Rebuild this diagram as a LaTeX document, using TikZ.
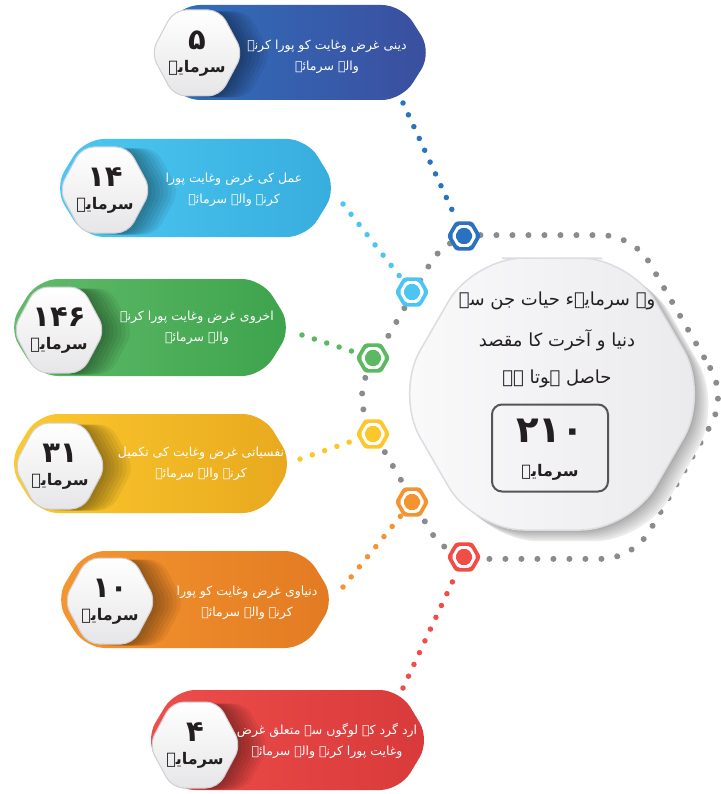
\documentclass[tikz,border=0pt]{standalone}
\usepackage{fontspec}
\usetikzlibrary{shapes.geometric,decorations.markings}
\TeXXeTstate=1
\newfontfamily\arabicfont[Script=Arabic]{DejaVu Sans}

\definecolor{cBlueA}{HTML}{2F72BE}\definecolor{cBlueB}{HTML}{3B4E9E}
\definecolor{cCyanA}{HTML}{4CC8F2}\definecolor{cCyanB}{HTML}{37ADDE}
\definecolor{cGreenA}{HTML}{62BC6B}\definecolor{cGreenB}{HTML}{3DA34C}
\definecolor{cYelA}{HTML}{FCCB2E}\definecolor{cYelB}{HTML}{E8A81E}
\definecolor{cOraA}{HTML}{F5962F}\definecolor{cOraB}{HTML}{E27A22}
\definecolor{cRedA}{HTML}{EE4F4B}\definecolor{cRedB}{HTML}{D8393A}
\definecolor{mBlue}{HTML}{2A72BF}\definecolor{mCyan}{HTML}{4CC6F1}
\definecolor{mGreen}{HTML}{5DB862}\definecolor{mYel}{HTML}{FCC72B}
\definecolor{mOra}{HTML}{F39430}\definecolor{mRed}{HTML}{EE4D48}
\definecolor{cDot}{HTML}{898B8E}
\definecolor{cInk}{HTML}{231F20}
\definecolor{cBadgeB}{HTML}{E6E6E8}
\definecolor{cBadgeLine}{HTML}{D0D0D4}
\definecolor{cCoreA}{HTML}{FAFAFB}
\definecolor{cCoreB}{HTML}{EAEAED}
\definecolor{cCoreLine}{HTML}{DCDCE1}
\definecolor{cBoxLine}{HTML}{555557}

\newcommand\hexpathxy[4]{(#1,#2-#4) -- (#1+0.5*#3,#2-#4) -- (#1+#3,#2) -- (#1+0.5*#3,#2+#4) -- (#1-0.5*#3,#2+#4) -- (#1-#3,#2) -- (#1-0.5*#3,#2-#4) -- cycle}
\newcommand\bannerpath[4]{(0.5*#1+0.5*#3,#2) -- (#3-30,#2) -- (#3,0.5*#2+0.5*#4) -- (#3-30,#4) -- (#1+30,#4) -- (#1,0.5*#2+0.5*#4) -- (#1+30,#2) -- cycle}

\newcommand\urbanner[9]{%
  \path[left color=c#8A, right color=c#8B, rounded corners=20] \bannerpath{#2}{#3}{#4}{#5};
  \foreach \k in {7,6,...,1} {\fill[black, opacity=0.06, rounded corners=12] \hexpathxy{#6+4*\k}{#7+1.5}{46}{43};}
  \path[top color=white, bottom color=cBadgeB, draw=cBadgeLine, line width=1, rounded corners=12] \hexpathxy{#6}{#7}{46}{43};
  \node[numtext] (#1num) at (#6,#7-13) {#9};
  \node[wordtext] (#1word) at (#6,#7+15) {\beginR سرمایہ\endR};
}

\tikzset{
  graydots/.style={decoration={markings, mark=between positions 0 and 1 step 16pt with {\fill[cDot] (0,0) circle (3);}}, decorate},
  linkdots/.style={draw=#1, line width=5.5, line cap=round, dash pattern=on 0pt off 13pt},
  bantext/.style={font=\arabicfont\fontsize{12.5}{21}\selectfont, text=white, align=center, inner sep=0},
  numtext/.style={font=\arabicfont\bfseries\fontsize{29}{29}\selectfont, text=cInk, inner sep=0},
  wordtext/.style={font=\arabicfont\bfseries\fontsize{16}{16}\selectfont, text=cInk, inner sep=0},
  coretext/.style={font=\arabicfont\fontsize{18}{18}\selectfont, text=cInk, inner sep=0},
  marker/.style={regular polygon, regular polygon sides=6, inner sep=0, minimum size=#1},
}

\begin{document}
\begin{tikzpicture}[x=1pt,y=-1pt]
\useasboundingbox (0,0) rectangle (720,794);
\fill[white] (0,0) rectangle (720,794);

% big dotted hexagon ring (rounded hexagon built from arcs)
\path[graydots] (710.2,368) arc[start angle=-30, end angle=30, radius=58]
  -- (650.2,529.9) arc[start angle=30, end angle=90, radius=58]
  -- (480,558.9) arc[start angle=90, end angle=150, radius=58]
  -- (369.8,426) arc[start angle=150, end angle=210, radius=58]
  -- (429.8,264.1) arc[start angle=210, end angle=270, radius=58]
  -- (600,235.1) arc[start angle=270, end angle=330, radius=58]
  -- (710.2,368);

% marker positions and banner link ends
\coordinate (e1) at (403,103);
\coordinate (e2) at (343,204);
\coordinate (e3) at (302,335);
\coordinate (e4) at (300,459);
\coordinate (e5) at (343,587);
\coordinate (e6) at (403,688);
\node[marker=34, fill=mBlue, rounded corners=3] (m1) at (464,236) {};
\node[marker=34, fill=mCyan, rounded corners=3] (m2) at (412,292) {};
\node[marker=34, fill=mGreen, rounded corners=3] (m3) at (373,358) {};
\node[marker=34, fill=mYel, rounded corners=3] (m4) at (373,434) {};
\node[marker=34, fill=mOra, rounded corners=3] (m5) at (412,502) {};
\node[marker=34, fill=mRed, rounded corners=3] (m6) at (464,557) {};

% connectors
\draw[linkdots=mBlue] (e1) -- (m1);
\draw[linkdots=mCyan] (e2) -- (m2);
\draw[linkdots=mGreen] (e3) -- (m3);
\draw[linkdots=mYel] (e4) -- (m4);
\draw[linkdots=mOra] (e5) -- (m5);
\draw[linkdots=mRed] (e6) -- (m6);

% central hexagon
\foreach \k/\c in {7/8,6/12,5/16,4/20,3/24,2/28,1/32}
  {\fill[black!\c, rounded corners=50] \hexpathxy{552+2*\k}{394+1.6*\k}{157}{136};}
\path[left color=cCoreA, right color=cCoreB, draw=cCoreLine, line width=1.5, rounded corners=50] \hexpathxy{552}{394}{157}{136};
\node[coretext] (ct1) at (557,301) {\beginR وہ سرمایہء حیات جن سے\endR};
\node[coretext] (ct2) at (557,340) {\beginR دنیا و آخرت کا مقصد\endR};
\node[coretext] (ct3) at (557,379) {\beginR حاصل ہوتا ہے\endR};
\node[draw=cBoxLine, line width=2, rounded corners=10, minimum width=116, minimum height=87, inner sep=0] (box) at (550,448) {};
\node[numtext, font=\arabicfont\bfseries\fontsize{37}{37}\selectfont] (total) at (550,431) {۲۱۰};
\node[wordtext] (totalword) at (550,472) {\beginR سرمایہ\endR};

% banners
\urbanner{b1}{150}{5}{432}{100}{197}{53}{Blue}{۵}
\urbanner{b2}{54}{139}{337}{237}{105}{190}{Cyan}{۱۴}
\urbanner{b3}{8}{279}{292}{376}{59}{330}{Green}{۱۴۶}
\urbanner{b4}{8}{414}{293}{513}{60}{466}{Yel}{۳۱}
\urbanner{b5}{55}{551}{335}{648}{110}{601}{Ora}{۱۰}
\urbanner{b6}{145}{690}{430}{790}{195}{745}{Red}{۴}

\node[bantext] (t1) at (327,57) {\beginR دینی غرض وغایت کو پورا کرنے\endR\\\beginR والے سرمائے\endR};
\node[bantext] (t2) at (234,190) {\beginR عمل کی غرض وغایت پورا\endR\\\beginR کرنے والے سرمائے\endR};
\node[bantext] (t3) at (197,328) {\beginR اخروی غرض وغایت پورا کرنے\endR\\\beginR والے سرمائے\endR};
\node[bantext] (t4) at (201,464) {\beginR نفسیاتی غرض وغایت کی تکمیل\endR\\\beginR کرنے والے سرمائے\endR};
\node[bantext] (t5) at (247,603) {\beginR دنیاوی غرض وغایت کو پورا\endR\\\beginR کرنے والے سرمائے\endR};
\node[bantext] (t6) at (327,741) {\beginR ارد گرد کے لوگوں سے متعلق غرض\endR\\\beginR وغایت پورا کرنے والے سرمائے\endR};

% marker rings (on top)
\foreach \m/\c in {m1/mBlue,m2/mCyan,m3/mGreen,m4/mYel,m5/mOra,m6/mRed}{
  \node[marker=25, fill=white, rounded corners=2] (\m w) at (\m) {};
  \node[marker=18, fill=\c, rounded corners=2] (\m c) at (\m) {};
}
\end{tikzpicture}
\end{document}
